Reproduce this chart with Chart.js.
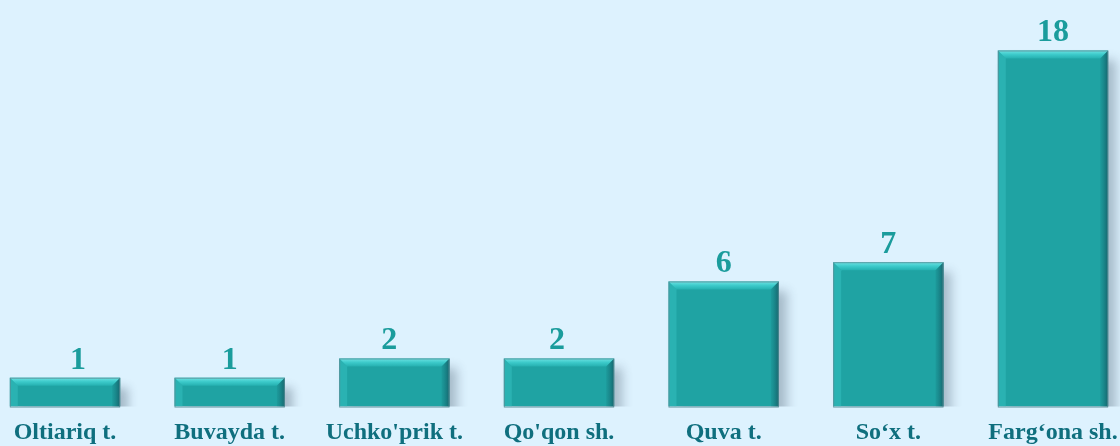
<!DOCTYPE html>
<html>
<head>
<meta charset="utf-8">
<script src="https://cdn.jsdelivr.net/npm/chart.js@4.4.1/dist/chart.umd.min.js"></script>
<style>
  html, body { margin: 0; padding: 0; background: #ddf2fe; }
  #wrap { width: 1120px; height: 446px; }
</style>
</head>
<body>
<div id="wrap"><canvas id="districtChart"></canvas></div>
<script>
// Districts and their counts
const districts = ['Oltiariq t.', 'Buvayda t.', "Uchko'prik t.", "Qo'qon sh.", 'Quva t.', 'So‘x t.', 'Farg‘ona sh.'];
const counts = [1, 1, 2, 2, 6, 7, 18];

const barColor = '#1fa3a3';
const labelColor = '#1a9c9c';
const tickColor = '#0f6f7e';
// small horizontal nudges for the value labels (px)
const labelNudge = [13, 0, -5, -2, 0, 0, 0];

// Bevelled edges on top of each bar
const bevelPlugin = {
    id: 'bevel',
    afterDatasetsDraw(chart) {
        const ctx = chart.ctx;
        chart.getDatasetMeta(0).data.forEach(function (bar) {
            const l = bar.x - bar.width / 2, r = bar.x + bar.width / 2;
            const t = bar.y, b = bar.base;
            const d = 8;
            ctx.save();
            // top face
            let g = ctx.createLinearGradient(0, t, 0, t + d);
            g.addColorStop(0, '#6ee3e3');
            g.addColorStop(0.5, '#3ccaca');
            g.addColorStop(1, '#25b0b0');
            ctx.fillStyle = g;
            ctx.beginPath();
            ctx.moveTo(l, t); ctx.lineTo(r, t); ctx.lineTo(r - d, t + d); ctx.lineTo(l + d, t + d);
            ctx.closePath(); ctx.fill();
            // left face
            ctx.fillStyle = 'rgba(60, 200, 200, 0.4)';
            ctx.beginPath();
            ctx.moveTo(l, t); ctx.lineTo(l + d, t + d); ctx.lineTo(l + d, b); ctx.lineTo(l, b);
            ctx.closePath(); ctx.fill();
            // right face
            g = ctx.createLinearGradient(r - d, 0, r, 0);
            g.addColorStop(0, 'rgba(20, 120, 125, 0.2)');
            g.addColorStop(1, 'rgba(20, 90, 100, 0.85)');
            ctx.fillStyle = g;
            ctx.beginPath();
            ctx.moveTo(r, t); ctx.lineTo(r - d, t + d); ctx.lineTo(r - d, b); ctx.lineTo(r, b);
            ctx.closePath(); ctx.fill();
            // outline
            ctx.strokeStyle = 'rgba(90, 140, 150, 0.8)';
            ctx.lineWidth = 1;
            ctx.strokeRect(l + 0.5, t + 0.5, r - l - 1, b - t);
            ctx.restore();
        });
    }
};

// Soft drop shadow behind the bars
const shadowPlugin = {
    id: 'barShadow',
    beforeDatasetDraw(chart) {
        const ctx = chart.ctx;
        ctx.save();
        ctx.shadowColor = 'rgba(40, 60, 80, 0.3)';
        ctx.shadowBlur = 10;
        ctx.shadowOffsetX = 8;
        ctx.shadowOffsetY = 10;
    },
    afterDatasetDraw(chart) {
        chart.ctx.restore();
    }
};

// Value above each bar
const valueLabels = {
    id: 'valueLabels',
    afterDatasetsDraw(chart) {
        const ctx = chart.ctx;
        ctx.save();
        ctx.font = 'bold 32px "Liberation Serif", "Times New Roman", serif';
        ctx.fillStyle = labelColor;
        ctx.textAlign = 'center';
        ctx.textBaseline = 'alphabetic';
        chart.getDatasetMeta(0).data.forEach(function (bar, i) {
            ctx.fillText(counts[i], bar.x + labelNudge[i], bar.y - 9);
        });
        ctx.restore();
    }
};

new Chart(document.getElementById('districtChart'), {
    type: 'bar',
    data: {
        labels: districts,
        datasets: [{
            data: counts,
            base: -0.5,
            backgroundColor: barColor,
            borderWidth: 0,
            barPercentage: 0.67,
            categoryPercentage: 1,
            clip: { left: false, top: false, right: false, bottom: 0 }
        }]
    },
    options: {
        responsive: true,
        maintainAspectRatio: false,
        animation: false,
        layout: { padding: { left: 65, right: 67, top: 12, bottom: 0 } },
        plugins: {
            legend: { display: false },
            tooltip: { enabled: false }
        },
        scales: {
            x: {
                offset: false,
                grid: { display: false, drawTicks: true, tickLength: 13 },
                border: { display: false },
                ticks: {
                    color: tickColor,
                    padding: 0,
                    maxRotation: 0,
                    autoSkip: false,
                    font: { family: '"Liberation Serif", "Times New Roman", serif', size: 24, weight: 'bold', lineHeight: 1.1 }
                }
            },
            y: {
                display: false,
                min: -0.5,
                max: 20
            }
        }
    },
    plugins: [shadowPlugin, bevelPlugin, valueLabels]
});
</script>
</body>
</html>
